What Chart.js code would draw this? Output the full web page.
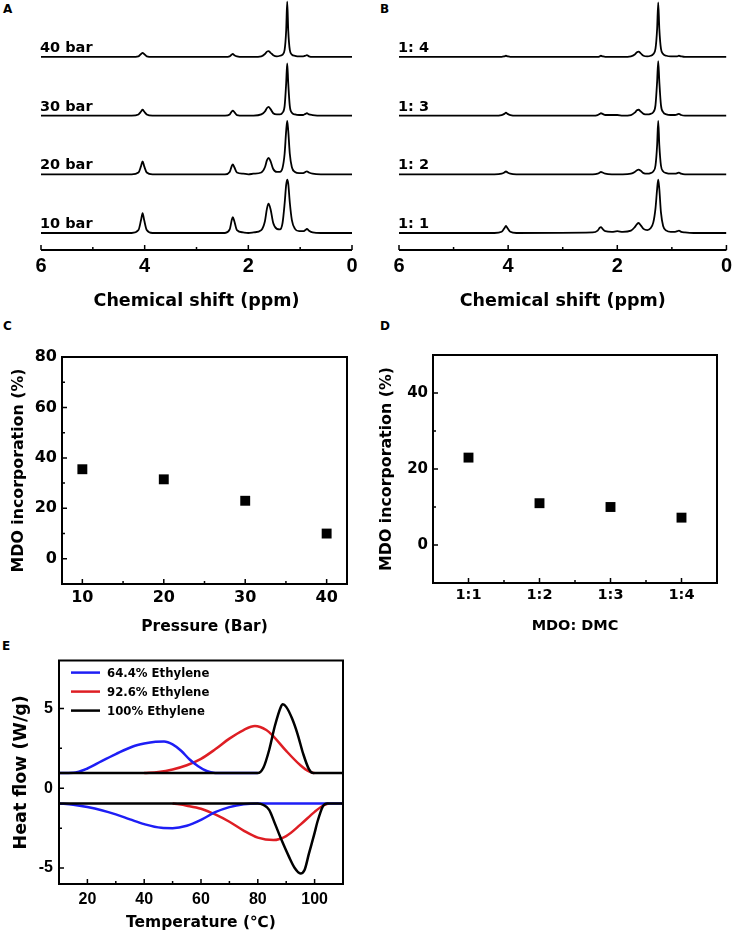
<!DOCTYPE html>
<html>
<head>
<meta charset="utf-8">
<script src="https://cdn.jsdelivr.net/npm/chart.js"></script>
<style>
  body { margin: 0; width: 736px; height: 936px; background: #fff; position: relative; overflow: hidden; font-family: 'DejaVu Sans', sans-serif; }
  canvas { position: absolute; }
  .tag { position: absolute; font-weight: bold; font-size: 12px; line-height: 12px; }
</style>
</head>
<body>
<div class="tag" style="left:3px;top:3px">A</div>
<div class="tag" style="left:380px;top:3px">B</div>
<div class="tag" style="left:3px;top:320px">C</div>
<div class="tag" style="left:380px;top:320px">D</div>
<div class="tag" style="left:2px;top:640px">E</div>

<canvas id="chartA" width="368" height="315" style="left:0;top:0"></canvas>
<canvas id="chartB" width="368" height="315" style="left:368px;top:0"></canvas>
<canvas id="chartC" width="368" height="300" style="left:0;top:340px"></canvas>
<canvas id="chartD" width="368" height="300" style="left:368px;top:340px"></canvas>
<canvas id="chartE" width="368" height="291" style="left:0;top:645px"></canvas>

<script>
// ---- data ----
// 1H NMR spectra (chemical shift in ppm, relative intensity)
var ppm = [6.0, 4.25, 4.12, 4.07, 4.04, 4.01, 3.96, 3.85, 2.45, 2.36, 2.32, 2.30, 2.27, 2.22, 2.10, 2.00, 1.90, 1.75, 1.68, 1.64, 1.61, 1.57, 1.52, 1.45, 1.39, 1.34, 1.30, 1.27, 1.25, 1.23, 1.20, 1.16, 1.10, 1.02, 0.94, 0.90, 0.87, 0.83, 0.76, 0.60, 0.0];

var bar10 = [0, 0, 0.05, 0.22, 0.34, 0.22, 0.05, 0, 0, 0.06, 0.22, 0.27, 0.20, 0.05, 0.01, 0, 0.01, 0.05, 0.20, 0.42, 0.50, 0.40, 0.17, 0.07, 0.06, 0.17, 0.50, 0.82, 0.91, 0.84, 0.52, 0.22, 0.07, 0.03, 0.03, 0.05, 0.07, 0.04, 0.01, 0, 0];
var bar20 = [0, 0, 0.03, 0.14, 0.22, 0.14, 0.03, 0, 0, 0.04, 0.14, 0.17, 0.12, 0.03, 0.01, 0, 0.01, 0.03, 0.12, 0.24, 0.28, 0.22, 0.09, 0.04, 0.04, 0.11, 0.35, 0.74, 0.91, 0.74, 0.35, 0.12, 0.04, 0.02, 0.02, 0.04, 0.05, 0.03, 0.01, 0, 0];
var bar30 = [0, 0, 0.02, 0.07, 0.10, 0.07, 0.02, 0, 0, 0.02, 0.07, 0.085, 0.06, 0.01, 0, 0, 0, 0.02, 0.07, 0.13, 0.15, 0.11, 0.04, 0.02, 0.02, 0.05, 0.16, 0.55, 0.89, 0.55, 0.16, 0.05, 0.02, 0.01, 0.01, 0.03, 0.04, 0.02, 0.01, 0, 0];
var bar40 = [0, 0, 0.01, 0.05, 0.07, 0.05, 0.01, 0, 0, 0.01, 0.04, 0.05, 0.03, 0.01, 0, 0, 0, 0.01, 0.05, 0.09, 0.10, 0.07, 0.03, 0.01, 0.02, 0.04, 0.12, 0.45, 0.94, 0.45, 0.12, 0.04, 0.02, 0.01, 0.01, 0.02, 0.03, 0.01, 0, 0, 0];

var ratio11 = [0, 0, 0.02, 0.08, 0.12, 0.08, 0.02, 0, 0.01, 0.04, 0.09, 0.10, 0.07, 0.03, 0.02, 0.03, 0.02, 0.04, 0.10, 0.15, 0.17, 0.13, 0.07, 0.05, 0.08, 0.18, 0.42, 0.75, 0.91, 0.75, 0.35, 0.12, 0.04, 0.02, 0.02, 0.03, 0.04, 0.02, 0.01, 0, 0];
var ratio12 = [0, 0, 0.01, 0.03, 0.05, 0.03, 0.01, 0, 0, 0.01, 0.03, 0.04, 0.03, 0.01, 0, 0, 0, 0.01, 0.04, 0.07, 0.08, 0.06, 0.02, 0.01, 0.02, 0.05, 0.15, 0.50, 0.91, 0.50, 0.15, 0.05, 0.02, 0.01, 0.01, 0.02, 0.03, 0.01, 0, 0, 0];
var ratio13 = [0, 0, 0.01, 0.03, 0.05, 0.03, 0.01, 0, 0, 0.01, 0.03, 0.04, 0.03, 0.01, 0.01, 0.01, 0, 0.01, 0.05, 0.09, 0.10, 0.07, 0.03, 0.02, 0.03, 0.06, 0.18, 0.58, 0.93, 0.58, 0.18, 0.06, 0.02, 0.01, 0.01, 0.02, 0.03, 0.01, 0, 0, 0];
var ratio14 = [0, 0, 0, 0.01, 0.02, 0.01, 0, 0, 0, 0, 0.01, 0.02, 0.01, 0, 0, 0, 0, 0.01, 0.04, 0.08, 0.09, 0.06, 0.02, 0.01, 0.02, 0.05, 0.14, 0.48, 0.93, 0.48, 0.14, 0.05, 0.02, 0.01, 0.01, 0.01, 0.02, 0.01, 0, 0, 0];

var pressureLabels = ['10 bar', '20 bar', '30 bar', '40 bar'];
var ratioLabelsB = ['1: 1', '1: 2', '1: 3', '1: 4'];
var stackOffsets = [0, 1, 2, 3];
var ppmTicks = [6, 4, 2, 0];
var ppmMinor = [5, 3, 1];

// C: incorporation vs pressure
var pressures = [10, 20, 30, 40];
var incPressure = [35.5, 31.5, 23, 10];
var pressTicks = [10, 20, 30, 40];
var pressMinor = [15, 25, 35];
var incTicksC = [0, 20, 40, 60, 80];
var incMinorC = [10, 30, 50, 70];

// D: incorporation vs MDO:DMC ratio
var ratioLabels = ['1:1', '1:2', '1:3', '1:4'];
var incRatio = [23, 11, 10, 7.2];
var ratioTicks = [1, 2, 3, 4];
var ratioMinor = [1.5, 2.5, 3.5];
var incTicksD = [0, 20, 40];
var incMinorD = [10, 30];

// E: DSC curves [temperature, heat flow]
var heat64 = [[10, 0.95], [15, 0.97], [20, 1.24], [25, 1.7], [30, 2.14], [36, 2.62], [40, 2.8], [44, 2.91], [47, 2.93], [50, 2.75], [53, 2.35], [56, 1.8], [59, 1.38], [62, 1.08], [65, 0.96], [67, 0.95], [80, 0.95]];
var heat92 = [[40, 0.95], [45, 1.02], [50, 1.18], [55, 1.44], [60, 1.84], [65, 2.44], [70, 3.11], [75, 3.65], [79, 3.9], [83, 3.65], [85, 3.35], [90, 2.34], [95, 1.44], [98, 1.05], [100, 0.95]];
var heat100 = [[10, 0.95], [80, 0.95], [82, 1.3], [84, 2.4], [86, 3.9], [88, 5.05], [88.8, 5.26], [90, 5.1], [92, 4.4], [94, 3.4], [96, 2.15], [98, 1.2], [99.5, 0.95], [110, 0.95]];
var cool64 = [[10, -0.95], [15, -1.03], [20, -1.18], [25, -1.38], [30, -1.64], [35, -1.95], [40, -2.25], [46, -2.48], [50, -2.5], [55, -2.35], [60, -1.98], [65, -1.5], [70, -1.18], [75, -1.0], [80, -0.95], [110, -0.95]];
var cool92 = [[50, -0.95], [55, -1.09], [60, -1.28], [65, -1.64], [70, -2.1], [75, -2.65], [80, -3.09], [85.5, -3.25], [90, -3.0], [95, -2.28], [100, -1.48], [103, -1.08], [105, -0.95]];
var cool100 = [[10, -0.95], [80, -0.95], [82, -1.05], [84, -1.35], [86, -2.2], [88, -3.09], [91, -4.3], [93, -5.0], [95, -5.34], [96.5, -5.1], [98, -4.1], [100, -2.8], [101, -2.1], [103, -1.1], [104.5, -0.95], [110, -0.95]];
var dscLabels = ['64.4% Ethylene', '92.6% Ethylene', '100% Ethylene'];
var tempTicks = [20, 40, 60, 80, 100];
var tempMinor = [30, 50, 70, 90];
var flowTicks = [-5, 0, 5];
var flowMinor = [-2.5, 2.5];

// ---- defaults ----
var wide = "'DejaVu Sans', sans-serif";
var narrow = "'Liberation Sans', Arial, sans-serif";
Chart.defaults.font.family = wide;
Chart.defaults.font.weight = 'bold';
Chart.defaults.color = '#000';
Chart.defaults.animation = false;
Chart.defaults.plugins.legend.display = false;
Chart.defaults.plugins.tooltip.enabled = false;

// axis line / frame with short inward ticks
var frame = {
  id: 'frame',
  afterDatasetsDraw: function(chart, args, o) {
    var ctx = chart.ctx, a = chart.chartArea;
    ctx.save();
    ctx.strokeStyle = '#000';
    ctx.lineWidth = 2;
    ctx.beginPath();
    if (o.box) ctx.rect(a.left, a.top, a.right - a.left, a.bottom - a.top);
    else { ctx.moveTo(a.left, a.bottom); ctx.lineTo(a.right, a.bottom); }
    ctx.stroke();
    ctx.lineWidth = 1.5;
    function marks(axis, vals, len) {
      var s = chart.scales[axis];
      ctx.beginPath();
      vals.forEach(function(v) {
        var p = s.getPixelForValue(v);
        if (axis === 'x') { ctx.moveTo(p, a.bottom); ctx.lineTo(p, a.bottom - len); }
        else { ctx.moveTo(a.left, p); ctx.lineTo(a.left + len, p); }
      });
      ctx.stroke();
    }
    ['x', 'y'].forEach(function(axis) {
      if (!o[axis]) return;
      marks(axis, o[axis].major, 5);
      marks(axis, o[axis].minor, 3);
    });
    ctx.restore();
  }
};

// names written over each stacked spectrum
var specNames = {
  id: 'specNames',
  afterDatasetsDraw: function(chart, args, o) {
    if (!o.offsets) return;
    var ctx = chart.ctx, a = chart.chartArea;
    ctx.save();
    ctx.font = 'bold 14.5px ' + wide;
    ctx.fillStyle = '#000';
    ctx.textBaseline = 'alphabetic';
    chart.data.datasets.forEach(function(d, i) {
      ctx.fillText(d.label, a.left + o.dx, chart.scales.y.getPixelForValue(o.offsets[i]) - o.dy);
    });
    ctx.restore();
  }
};

// line legend in the top-left corner of the plot
var lineLegend = {
  id: 'lineLegend',
  afterDatasetsDraw: function(chart, args, o) {
    if (!o.show) return;
    var ctx = chart.ctx, a = chart.chartArea;
    ctx.save();
    ctx.font = 'bold 11.7px ' + wide;
    ctx.textBaseline = 'middle';
    var row = 0;
    chart.data.datasets.forEach(function(d) {
      if (!d.label) return;
      var y = a.top + 12 + row * 19;
      ctx.strokeStyle = d.borderColor;
      ctx.lineWidth = 2.5;
      ctx.beginPath();
      ctx.moveTo(a.left + 12, y);
      ctx.lineTo(a.left + 41, y);
      ctx.stroke();
      ctx.fillStyle = '#000';
      ctx.fillText(d.label, a.left + 48, y + 1);
      row++;
    });
    ctx.restore();
  }
};

function fixTicks(vals) {
  return function(s) { s.ticks = vals.map(function(v) { return {value: v}; }); };
}

function spectrumChart(id, names, series, padLeft, padRight) {
  var datasets = series.map(function(vals, k) {
    return {
      label: names[k],
      data: ppm.map(function(x, i) { return {x: x, y: vals[i] + stackOffsets[k]}; }),
      borderColor: '#000',
      borderWidth: 1.8,
      pointRadius: 0,
      cubicInterpolationMode: 'monotone'
    };
  });
  new Chart(document.getElementById(id), {
    type: 'line',
    data: {datasets: datasets},
    plugins: [frame, specNames],
    options: {
      responsive: false,
      layout: {padding: {left: padLeft, right: padRight, top: 0, bottom: 0}},
      scales: {
        x: {
          type: 'linear', min: 0, max: 6, reverse: true,
          afterBuildTicks: fixTicks(ppmTicks),
          afterFit: function(s) { s.height = 65; },
          grid: {display: false, drawTicks: false},
          border: {display: false},
          ticks: {font: {size: 20, family: narrow}, padding: 4},
          title: {display: true, text: 'Chemical shift (ppm)', font: {size: 17.5}, padding: {top: 0, bottom: 3.5}}
        },
        y: {display: false, min: -0.29, max: 3.97}
      },
      plugins: {
        frame: {box: false, x: {major: ppmTicks, minor: ppmMinor}},
        specNames: {offsets: stackOffsets, dx: -1, dy: 5}
      }
    }
  });
}

spectrumChart('chartA', pressureLabels, [bar10, bar20, bar30, bar40], 41, 16);
spectrumChart('chartB', ratioLabelsB, [ratio11, ratio12, ratio13, ratio14], 31, 9);

function squares(xs, ys) {
  return [{
    data: xs.map(function(x, i) { return {x: x, y: ys[i]}; }),
    showLine: false,
    pointStyle: 'rect',
    pointRadius: 7,
    pointBackgroundColor: '#000',
    pointBorderWidth: 0
  }];
}

// C
new Chart(document.getElementById('chartC'), {
  type: 'scatter',
  data: {datasets: squares(pressures, incPressure)},
  plugins: [frame],
  options: {
    responsive: false,
    layout: {padding: {top: 17, right: 21}},
    scales: {
      x: {
        min: 7.5, max: 42.5,
        afterBuildTicks: fixTicks(pressTicks),
        afterFit: function(s) { s.height = 56; },
        grid: {display: false, drawTicks: false}, border: {display: false},
        ticks: {font: {size: 16}, padding: 4},
        title: {display: true, text: 'Pressure (Bar)', font: {size: 15.5}, padding: {top: 0, bottom: 3.5}}
      },
      y: {
        min: -10, max: 80,
        afterBuildTicks: fixTicks(incTicksC),
        afterFit: function(s) { s.width = 62; },
        grid: {display: false, drawTicks: false}, border: {display: false},
        ticks: {font: {size: 16}, padding: 5},
        title: {display: true, text: 'MDO incorporation (%)', font: {size: 15.8}, padding: {top: 9.5, bottom: 0}}
      }
    },
    plugins: {
      frame: {box: true, x: {major: pressTicks, minor: pressMinor}, y: {major: incTicksC, minor: incMinorC}}
    }
  }
});

// D
new Chart(document.getElementById('chartD'), {
  type: 'scatter',
  data: {datasets: squares(ratioTicks, incRatio)},
  plugins: [frame],
  options: {
    responsive: false,
    layout: {padding: {top: 15, right: 19}},
    scales: {
      x: {
        min: 0.5, max: 4.5,
        afterBuildTicks: fixTicks(ratioTicks),
        afterFit: function(s) { s.height = 57; },
        grid: {display: false, drawTicks: false}, border: {display: false},
        ticks: {font: {size: 14.5}, padding: 4, callback: function(v) { return ratioLabels[v - 1]; }},
        title: {display: true, text: 'MDO: DMC', font: {size: 14.5}, padding: {top: 0, bottom: 5}}
      },
      y: {
        min: -10, max: 50,
        afterBuildTicks: fixTicks(incTicksD),
        afterFit: function(s) { s.width = 65; },
        grid: {display: false, drawTicks: false}, border: {display: false},
        ticks: {font: {size: 15}, padding: 5},
        title: {display: true, text: 'MDO incorporation (%)', font: {size: 15.8}, padding: {top: 9.5, bottom: 0}}
      }
    },
    plugins: {
      frame: {box: true, x: {major: ratioTicks, minor: ratioMinor}, y: {major: incTicksD, minor: incMinorD}}
    }
  }
});

// E
function dsc(points, color, label, order) {
  return {
    label: label,
    data: points.map(function(p) { return {x: p[0], y: p[1]}; }),
    borderColor: color,
    borderWidth: 2.5,
    pointRadius: 0,
    order: order,
    cubicInterpolationMode: 'monotone'
  };
}
var blue = 'rgb(30,30,245)', red = 'rgb(222,30,36)', black = '#000';
new Chart(document.getElementById('chartE'), {
  type: 'line',
  data: {datasets: [
    dsc(heat64, blue, dscLabels[0], 1),
    dsc(heat92, red, dscLabels[1], 2),
    dsc(heat100, black, dscLabels[2], 0),
    dsc(cool64, blue, '', 1),
    dsc(cool92, red, '', 2),
    dsc(cool100, black, '', 0)
  ]},
  plugins: [frame, lineLegend],
  options: {
    responsive: false,
    layout: {padding: {top: 10, right: 25}},
    scales: {
      x: {
        type: 'linear', min: 10, max: 110,
        afterBuildTicks: fixTicks(tempTicks),
        afterFit: function(s) { s.height = 52; },
        grid: {display: false, drawTicks: false}, border: {display: false},
        ticks: {font: {size: 16, family: narrow}, padding: 6},
        title: {display: true, text: 'Temperature (\u2103)', font: {size: 15.5}, padding: {top: 0, bottom: 3.5}}
      },
      y: {
        min: -6, max: 8,
        afterBuildTicks: fixTicks(flowTicks),
        afterFit: function(s) { s.width = 59; },
        grid: {display: false, drawTicks: false}, border: {display: false},
        ticks: {font: {size: 16, family: narrow}, padding: 6},
        title: {display: true, text: 'Heat flow (W/g)', font: {size: 17.5}, padding: {top: 10.5, bottom: 0}}
      }
    },
    plugins: {
      frame: {box: true, x: {major: tempTicks, minor: tempMinor}, y: {major: flowTicks, minor: flowMinor}},
      lineLegend: {show: true}
    }
  }
});
</script>
</body>
</html>
